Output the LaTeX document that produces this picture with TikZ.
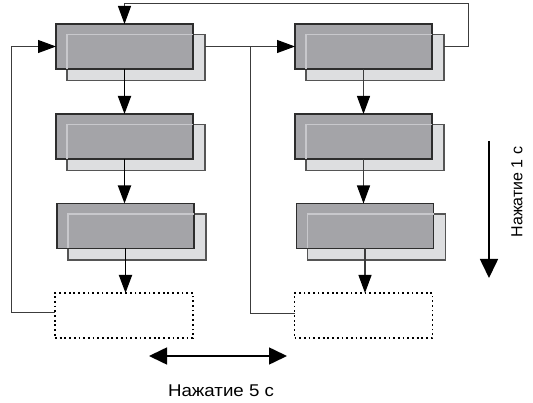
\documentclass[tikz,border=0pt]{standalone}
\usepackage{fontspec}
\setmainfont{Liberation Sans}
\usetikzlibrary{arrows.meta}
\definecolor{frontfill}{RGB}{164,164,168}
\definecolor{frontdraw}{RGB}{45,45,45}
\definecolor{backfill}{RGB}{221,222,224}
\definecolor{backdraw}{RGB}{85,85,85}
\definecolor{hlcol}{RGB}{200,200,204}
\definecolor{thinline}{RGB}{60,60,60}
\tikzset{
  frontbox/.style={draw=frontdraw, fill=frontfill, line width=1.8pt, minimum width=137pt, minimum height=45pt, inner sep=0pt, outer sep=0pt},
  backbox/.style={draw=backdraw, fill=backfill, line width=1.8pt, minimum width=138pt, minimum height=46pt, inner sep=0pt, outer sep=0pt},
  dotbox/.style={draw=black, line width=1.7pt, dash pattern=on 1.8pt off 2.9pt, minimum width=138pt, minimum height=45pt, inner sep=0pt, outer sep=0pt},
  hl/.style={draw=hlcol, line width=1.3pt},
  tipsmall/.style={-{Triangle[length=18pt,width=13pt,color=black]}},
  colarrowL/.style={tipsmall, line width=1.8pt, black},
  colarrowR/.style={tipsmall, line width=1.1pt, thinline},
  loopline/.style={line width=1pt, thinline},
  bigarrow/.style={line width=1.6pt, black},
  lbl/.style={font=\fontsize{16pt}{18pt}\selectfont, inner sep=0pt},
}
\newcommand\boxpair[3]{%
  \node[backbox] (#1s) at (#2+11.5,#3+11) {};
  \node[frontbox] (#1) at (#2,#3) {};
  \draw[hl] (#1s.north west |- #1.south) -- (#1s.north west) -- (#1.east |- #1s.north);
}
\begin{document}
\begin{tikzpicture}[x=1pt,y=-1pt]
\useasboundingbox (0,0) rectangle (533,403);
% left column
\boxpair{L1}{124.5}{46.5}
\boxpair{L2}{124.5}{136.5}
\boxpair{L3}{125.5}{226}
\node[dotbox] (LD) at (124,315.5) {};
% right column
\boxpair{R1}{363.5}{46.5}
\boxpair{R2}{363.5}{136.5}
\boxpair{R3}{365}{226}
\node[dotbox] (RD) at (363.5,315.5) {};
% column arrows
\draw[colarrowL] (L1.south) -- (L2.north);
\draw[colarrowL] (L2.south) -- (L2.south |- L3.north);
\draw[colarrowL] (L3.south) -- (L3.south |- LD.north);
\draw[colarrowR] (R1.south) -- (R2.north);
\draw[colarrowR] (R2.south) -- (R2.south |- R3.north);
\draw[colarrowR] (R3.south) -- (R3.south |- RD.north);
% top loop
\coordinate (tr) at (468,4);
\draw[loopline, tipsmall] (R1s.east |- R1.east) -| (tr) -| (L1.north);
% left loop
\coordinate (ll) at (11,313);
\draw[loopline, tipsmall] (LD.west |- ll) -- (ll) |- (L1.west);
% middle
\draw[loopline, tipsmall] (L1s.east |- L1.east) -- (R1.west);
\coordinate (mj) at (250,314);
\draw[loopline] (RD.west |- mj) -- (mj) -- (mj |- R1.west);
% right arrow and label
\coordinate (v1) at (489,141);
\coordinate (v2) at (489,278);
\draw[bigarrow, -{Triangle[length=19pt,width=18pt]}] (v1) -- (v2);
\node[lbl, rotate=90] (t1) at (517,192) {Нажатие 1 с};
% bottom arrow and label
\coordinate (h1) at (149,356);
\coordinate (h2) at (287,356);
\draw[bigarrow, {Triangle[length=18pt,width=17pt]}-{Triangle[length=18pt,width=17pt]}] (h1) -- (h2);
\node[lbl, font=\fontsize{17pt}{19pt}\selectfont, xscale=1.1] (t5) at (221,391) {Нажатие 5 с};
\end{tikzpicture}
\end{document}
